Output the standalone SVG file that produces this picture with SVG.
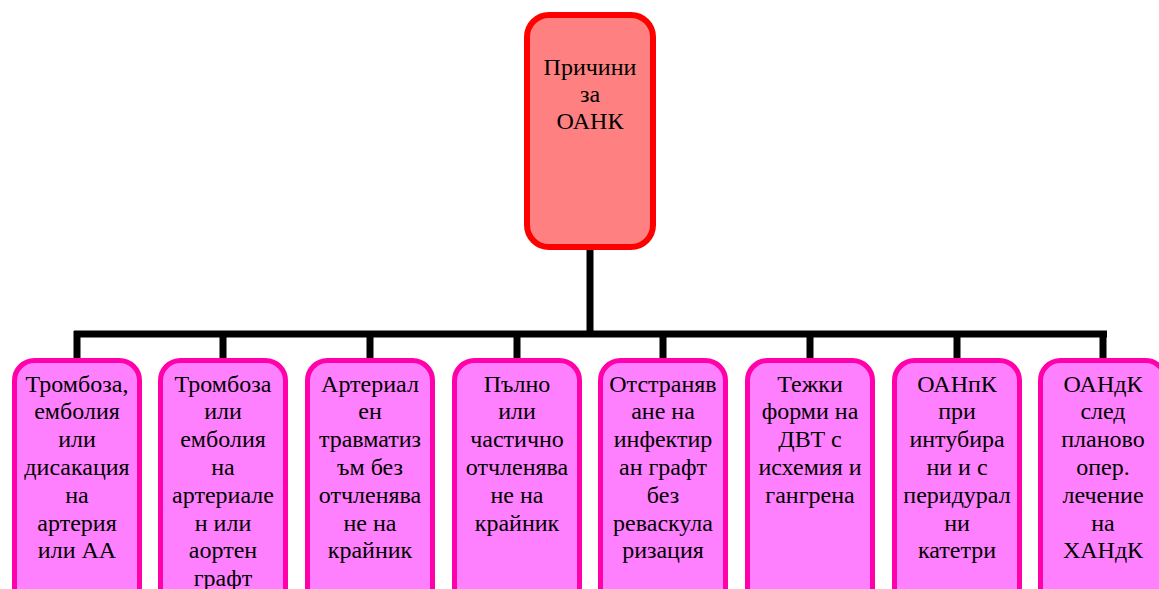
<svg xmlns="http://www.w3.org/2000/svg" width="1159" height="589" viewBox="0 0 1159 589">
<style>
.t{font-family:"Liberation Serif","Tinos","DejaVu Serif","Noto Serif","Times New Roman",serif;font-size:24px;fill:#000;text-anchor:middle}
.root{fill:#FF8080;stroke:#FF0000;stroke-width:6}
.leaf{fill:#FF80FF;stroke:#FF00AA;stroke-width:5}
.c{stroke:#000;stroke-width:7;fill:none}
</style>
<rect width="1159" height="589" fill="#fff"/>
<g id="connectors">
<path class="c" d="M590 248V334M74 334H1107M77 331V360M223 331V360M370 331V360M517 331V360M663 331V360M810 331V360M957 331V360M1103 331V360"/>
</g>
<g id="root">
<rect class="root" x="527" y="15" width="126" height="232" rx="22"/>
<text class="t" x="590" y="75">Причини</text>
<text class="t" x="590" y="102">за</text>
<text class="t" x="590" y="128.5">ОАНК</text>
</g>
<g id="n1">
<rect class="leaf" x="14.5" y="360.5" width="125" height="250" rx="20"/>
<text class="t" x="77"><tspan x="77" y="391.5">Тромбоза,</tspan><tspan x="77" y="419.3">емболия</tspan><tspan x="77" y="447.1">или</tspan><tspan x="77" y="474.9">дисакация</tspan><tspan x="77" y="502.7">на</tspan><tspan x="77" y="530.5">артерия</tspan><tspan x="77" y="558.3">или АА</tspan></text>
</g>
<g id="n2">
<rect class="leaf" x="160.5" y="360.5" width="125" height="250" rx="20"/>
<text class="t" x="223"><tspan x="223" y="391.5">Тромбоза</tspan><tspan x="223" y="419.3">или</tspan><tspan x="223" y="447.1">емболия</tspan><tspan x="223" y="474.9">на</tspan><tspan x="223" y="502.7">артериале</tspan><tspan x="223" y="530.5">н или</tspan><tspan x="223" y="558.3">аортен</tspan><tspan x="223" y="586.1">графт</tspan></text>
</g>
<g id="n3">
<rect class="leaf" x="307.5" y="360.5" width="125" height="250" rx="20"/>
<text class="t" x="370"><tspan x="370" y="391.5">Артериал</tspan><tspan x="370" y="419.3">ен</tspan><tspan x="370" y="447.1">травматиз</tspan><tspan x="370" y="474.9">ъм без</tspan><tspan x="370" y="502.7">отчленява</tspan><tspan x="370" y="530.5">не на</tspan><tspan x="370" y="558.3">крайник</tspan></text>
</g>
<g id="n4">
<rect class="leaf" x="454.5" y="360.5" width="125" height="250" rx="20"/>
<text class="t" x="517"><tspan x="517" y="391.5">Пълно</tspan><tspan x="517" y="419.3">или</tspan><tspan x="517" y="447.1">частично</tspan><tspan x="517" y="474.9">отчленява</tspan><tspan x="517" y="502.7">не на</tspan><tspan x="517" y="530.5">крайник</tspan></text>
</g>
<g id="n5">
<rect class="leaf" x="600.5" y="360.5" width="125" height="250" rx="20"/>
<text class="t" x="663"><tspan x="663" y="391.5">Отстраняв</tspan><tspan x="663" y="419.3">ане на</tspan><tspan x="663" y="447.1">инфектир</tspan><tspan x="663" y="474.9">ан графт</tspan><tspan x="663" y="502.7">без</tspan><tspan x="663" y="530.5">реваскула</tspan><tspan x="663" y="558.3">ризация</tspan></text>
</g>
<g id="n6">
<rect class="leaf" x="747.5" y="360.5" width="125" height="250" rx="20"/>
<text class="t" x="810"><tspan x="810" y="391.5">Тежки</tspan><tspan x="810" y="419.3">форми на</tspan><tspan x="810" y="447.1">ДВТ с</tspan><tspan x="810" y="474.9">исхемия и</tspan><tspan x="810" y="502.7">гангрена</tspan></text>
</g>
<g id="n7">
<rect class="leaf" x="894.5" y="360.5" width="125" height="250" rx="20"/>
<text class="t" x="957"><tspan x="957" y="391.5">ОАНпК</tspan><tspan x="957" y="419.3">при</tspan><tspan x="957" y="447.1">интубира</tspan><tspan x="957" y="474.9">ни и с</tspan><tspan x="957" y="502.7">перидурал</tspan><tspan x="957" y="530.5">ни</tspan><tspan x="957" y="558.3">катетри</tspan></text>
</g>
<g id="n8">
<rect class="leaf" x="1040.5" y="360.5" width="125" height="250" rx="20"/>
<text class="t" x="1103"><tspan x="1103" y="391.5">ОАНдК</tspan><tspan x="1103" y="419.3">след</tspan><tspan x="1103" y="447.1">планово</tspan><tspan x="1103" y="474.9">опер.</tspan><tspan x="1103" y="502.7">лечение</tspan><tspan x="1103" y="530.5">на</tspan><tspan x="1103" y="558.3">ХАНдК</tspan></text>
</g>
</svg>
